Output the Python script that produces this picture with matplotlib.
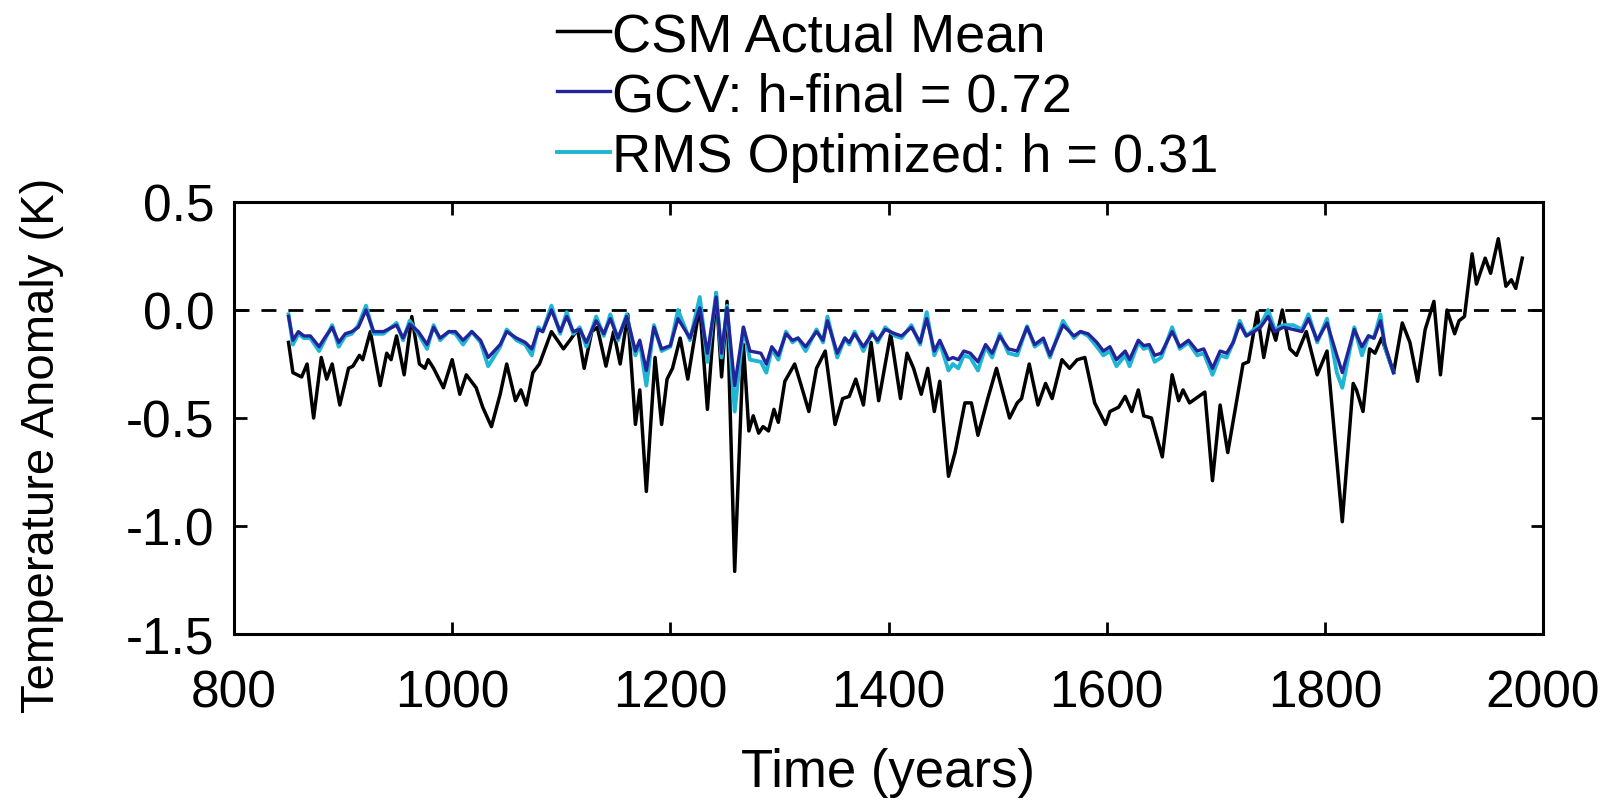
import matplotlib
matplotlib.use("Agg")
import matplotlib.pyplot as plt

plt.rcParams['font.family'] = ['Liberation Sans', 'DejaVu Sans']

# ---------------- data ----------------
csm_years = [850, 854, 862, 867, 873, 880, 885, 890, 897, 905,
             909, 915, 918, 925, 934, 940, 944, 949, 956, 963,
             970, 975, 978, 983, 992, 1000, 1007, 1013, 1022, 1028,
             1036, 1044, 1050, 1058, 1063, 1068, 1074, 1080, 1091, 1102,
             1108, 1115, 1121, 1128, 1133, 1141, 1148, 1154, 1161, 1168,
             1172, 1178, 1186, 1192, 1197, 1202, 1209, 1216, 1227, 1234,
             1242, 1247, 1252, 1259, 1267, 1272, 1276, 1281, 1285, 1290,
             1295, 1299, 1305, 1314, 1320, 1327, 1334, 1342, 1351, 1358,
             1364, 1370, 1377, 1384, 1391, 1402, 1411, 1417, 1423, 1430,
             1436, 1442, 1447, 1455, 1461, 1470, 1476, 1482, 1491, 1499,
             1511, 1518, 1522, 1529, 1537, 1544, 1550, 1559, 1566, 1573,
             1580, 1589, 1599, 1603, 1611, 1617, 1623, 1629, 1634, 1641,
             1651, 1660, 1666, 1670, 1676, 1690, 1697, 1704, 1711, 1725,
             1730, 1738, 1744, 1750, 1755, 1761, 1768, 1774, 1783, 1793,
             1802, 1816, 1826, 1829, 1835, 1841, 1846, 1852, 1863, 1871,
             1878, 1885, 1892, 1900, 1906, 1912, 1919, 1923, 1928, 1935,
             1939, 1947, 1952, 1959, 1966, 1971, 1975, 1981]
csm_vals = [-0.15, -0.29, -0.31, -0.25, -0.50, -0.22, -0.32, -0.25, -0.44, -0.27,
            -0.26, -0.21, -0.23, -0.10, -0.35, -0.20, -0.23, -0.12, -0.30, -0.03,
            -0.25, -0.27, -0.23, -0.27, -0.36, -0.23, -0.39, -0.30, -0.36, -0.45,
            -0.54, -0.39, -0.25, -0.42, -0.37, -0.44, -0.29, -0.25, -0.10, -0.18,
            -0.14, -0.09, -0.27, -0.10, -0.08, -0.26, -0.10, -0.25, -0.02, -0.53,
            -0.37, -0.84, -0.22, -0.53, -0.32, -0.27, -0.13, -0.32, 0.02, -0.46,
            0.08, -0.31, 0.04, -1.21, -0.16, -0.56, -0.49, -0.57, -0.54, -0.56,
            -0.46, -0.52, -0.33, -0.25, -0.35, -0.47, -0.27, -0.19, -0.53, -0.41,
            -0.40, -0.32, -0.44, -0.15, -0.42, -0.11, -0.41, -0.20, -0.27, -0.39,
            -0.27, -0.47, -0.33, -0.77, -0.66, -0.43, -0.43, -0.58, -0.41, -0.27,
            -0.50, -0.43, -0.41, -0.25, -0.44, -0.34, -0.41, -0.23, -0.27, -0.23,
            -0.22, -0.43, -0.53, -0.47, -0.45, -0.40, -0.47, -0.37, -0.49, -0.50,
            -0.68, -0.30, -0.42, -0.37, -0.43, -0.38, -0.79, -0.44, -0.66, -0.25,
            -0.24, -0.01, -0.22, -0.06, -0.14, 0.00, -0.18, -0.21, -0.10, -0.30,
            -0.19, -0.98, -0.34, -0.37, -0.47, -0.18, -0.20, -0.13, -0.29, -0.06,
            -0.15, -0.33, -0.09, 0.04, -0.30, 0.00, -0.11, -0.05, -0.03, 0.26,
            0.12, 0.24, 0.17, 0.33, 0.11, 0.14, 0.10, 0.24]

smooth_years = [850, 854, 859, 864, 870, 878, 883, 890, 896, 902,
                908, 914, 921, 928, 937, 949, 955, 961, 969, 977,
                983, 989, 997, 1003, 1010, 1018, 1026, 1033, 1044, 1050,
                1059, 1067, 1073, 1079, 1083, 1091, 1099, 1105, 1111, 1117,
                1123, 1132, 1139, 1145, 1152, 1160, 1168, 1172, 1178, 1185,
                1192, 1200, 1207, 1218, 1227, 1234, 1242, 1247, 1252, 1259,
                1267, 1273, 1283, 1288, 1293, 1299, 1306, 1312, 1317, 1324,
                1334, 1340, 1344, 1353, 1360, 1364, 1369, 1377, 1385, 1390,
                1397, 1406, 1412, 1421, 1429, 1435, 1442, 1447, 1455, 1459,
                1464, 1469, 1475, 1482, 1489, 1495, 1502, 1510, 1518, 1527,
                1534, 1542, 1548, 1560, 1570, 1576, 1583, 1591, 1597, 1603,
                1609, 1617, 1621, 1629, 1634, 1639, 1644, 1650, 1660, 1667,
                1675, 1683, 1689, 1697, 1704, 1710, 1716, 1722, 1728, 1735,
                1741, 1748, 1754, 1762, 1771, 1779, 1785, 1793, 1802, 1811,
                1816, 1827, 1834, 1840, 1845, 1851, 1855, 1863]
gcv_vals = [-0.03, -0.14, -0.10, -0.12, -0.12, -0.17, -0.13, -0.08, -0.15, -0.11,
            -0.10, -0.08, 0.00, -0.10, -0.10, -0.07, -0.13, -0.065, -0.10, -0.16,
            -0.08, -0.13, -0.10, -0.10, -0.14, -0.10, -0.14, -0.22, -0.16, -0.10,
            -0.13, -0.15, -0.18, -0.09, -0.10, 0.00, -0.10, -0.03, -0.10, -0.09,
            -0.15, -0.05, -0.11, -0.04, -0.13, -0.03, -0.19, -0.14, -0.28, -0.08,
            -0.18, -0.165, -0.04, -0.13, 0.01, -0.20, 0.06, -0.20, 0.01, -0.35,
            -0.08, -0.19, -0.20, -0.25, -0.17, -0.21, -0.11, -0.14, -0.13, -0.17,
            -0.10, -0.14, -0.05, -0.20, -0.13, -0.15, -0.11, -0.17, -0.11, -0.14,
            -0.09, -0.11, -0.12, -0.08, -0.15, -0.04, -0.19, -0.14, -0.23, -0.22,
            -0.23, -0.19, -0.20, -0.24, -0.16, -0.20, -0.12, -0.18, -0.19, -0.08,
            -0.16, -0.13, -0.21, -0.07, -0.12, -0.10, -0.11, -0.15, -0.19, -0.17,
            -0.23, -0.19, -0.23, -0.14, -0.165, -0.16, -0.21, -0.20, -0.10, -0.17,
            -0.14, -0.19, -0.18, -0.27, -0.19, -0.20, -0.15, -0.065, -0.12, -0.10,
            -0.08, -0.03, -0.10, -0.08, -0.09, -0.10, -0.04, -0.14, -0.06, -0.21,
            -0.29, -0.09, -0.17, -0.12, -0.13, -0.05, -0.16, -0.29]
rms_vals = [-0.02, -0.16, -0.11, -0.13, -0.13, -0.19, -0.14, -0.07, -0.17, -0.12,
            -0.11, -0.07, 0.02, -0.11, -0.11, -0.06, -0.14, -0.05, -0.11, -0.18,
            -0.07, -0.14, -0.10, -0.11, -0.16, -0.10, -0.15, -0.26, -0.17, -0.09,
            -0.14, -0.16, -0.21, -0.08, -0.10, 0.02, -0.11, -0.01, -0.11, -0.08,
            -0.17, -0.03, -0.12, -0.02, -0.14, -0.02, -0.21, -0.15, -0.35, -0.07,
            -0.19, -0.17, 0.00, -0.14, 0.06, -0.24, 0.08, -0.22, 0.02, -0.47,
            -0.08, -0.23, -0.24, -0.29, -0.18, -0.23, -0.10, -0.15, -0.13, -0.19,
            -0.09, -0.15, -0.03, -0.22, -0.13, -0.16, -0.10, -0.19, -0.10, -0.15,
            -0.08, -0.12, -0.13, -0.07, -0.16, -0.01, -0.21, -0.15, -0.28, -0.25,
            -0.27, -0.21, -0.22, -0.28, -0.17, -0.22, -0.11, -0.20, -0.21, -0.075,
            -0.17, -0.14, -0.22, -0.05, -0.13, -0.10, -0.12, -0.17, -0.21, -0.19,
            -0.26, -0.21, -0.26, -0.15, -0.18, -0.17, -0.24, -0.22, -0.08, -0.18,
            -0.15, -0.21, -0.20, -0.30, -0.21, -0.22, -0.15, -0.05, -0.12, -0.09,
            -0.07, 0.00, -0.09, -0.07, -0.07, -0.09, -0.02, -0.15, -0.04, -0.29,
            -0.36, -0.08, -0.21, -0.12, -0.13, -0.02, -0.17, -0.29]

labels = ["CSM Actual Mean", "GCV: h-final = 0.72", "RMS Optimized: h = 0.31"]
x_ticks = [800, 1000, 1200, 1400, 1600, 1800, 2000]
y_ticks = [-1.5, -1.0, -0.5, 0.0, 0.5]
y_ticklabels = ["-1.5", "-1.0", "-0.5", "0.0", "0.5"]

# ---------------- plot ----------------
fig = plt.figure(figsize=(16.08, 8.04), dpi=100)
ax = fig.add_axes([234 / 1608, 1 - 635 / 804, (1543 - 234) / 1608, (635 - 203) / 804])

ax.axhline(0, color='black', lw=2.0, linestyle=(0, (5.4, 4.3)), zorder=1)
l1, = ax.plot(csm_years, csm_vals, color='black', lw=2.5, zorder=2)
l3, = ax.plot(smooth_years, rms_vals, color='#1fb6d6', lw=2.8, zorder=3)
l2, = ax.plot(smooth_years, gcv_vals, color='#23239a', lw=2.4, zorder=4)

ax.set_xlim(800, 2000)
ax.set_ylim(-1.5, 0.5)
ax.set_xticks(x_ticks)
ax.set_xticklabels([str(t) for t in x_ticks])
ax.set_yticks(y_ticks)
ax.set_yticklabels(y_ticklabels)

ax.tick_params(direction='in', length=9, width=2.0, top=True, right=True,
               labelsize=37, colors='black')
ax.tick_params(axis='x', pad=25)
ax.tick_params(axis='y', pad=14)
for s in ax.spines.values():
    s.set_linewidth(2.2)

ax.set_xlabel("Time (years)", fontsize=38, va='top')
ax.xaxis.set_label_coords(0.5, -0.262)
ax.set_ylabel("Temperature Anomaly (K)", fontsize=34, va='center')
ax.yaxis.set_label_coords(-0.147, 0.44)

fig.legend([l1, l2, l3], labels, loc='upper left',
           bbox_to_anchor=(557 / 1608, 0.985), frameon=False, fontsize=39,
           handlelength=0.98, handletextpad=0.04, labelspacing=0.19,
           borderpad=0.0, borderaxespad=0.0)

fig.savefig("out.png", dpi=100)
